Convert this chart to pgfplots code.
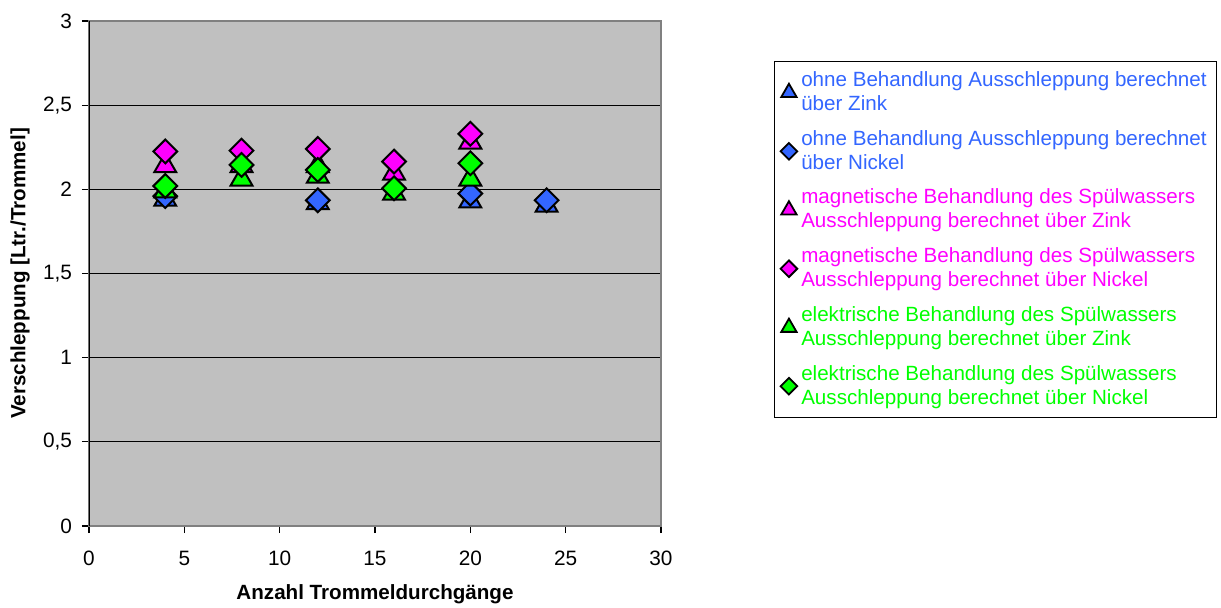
\documentclass[border=0pt]{standalone}
\usepackage{pgfplots}
\pgfplotsset{compat=1.18}
\usepackage{fontspec}
\setmainfont{Liberation Sans}
\definecolor{cblue}{HTML}{3366FF}
\definecolor{cmag}{HTML}{FF00FF}
\definecolor{cgreen}{HTML}{00FF00}
\definecolor{plotbg}{HTML}{C0C0C0}
\pgfplotsset{
  every y tick label/.append style={font=\fontsize{10.4}{12}\selectfont, xshift=-1.5pt},
  every x tick label/.append style={font=\fontsize{10.4}{12}\selectfont, yshift=-5.5pt},
}
\begin{document}
\begin{tikzpicture}
\path[use as bounding box] (-44.5pt,-40.5pt) rectangle (566pt,263pt);
\begin{axis}[
  scale only axis,
  width=286pt, height=252.5pt,
  xmin=0, xmax=30, ymin=0, ymax=3,
  xtick={0,5,...,30}, ytick={0,0.5,...,3},
  axis background/.style={fill=plotbg},
  axis line style={draw=gray!100!black, line width=1pt},
  ymajorgrids, grid style={black, line width=0.6pt},
  tick align=outside, tick pos=left,
  major tick length=3.5pt,
  tick style={black, line width=0.6pt},
  xlabel={\bfseries Anzahl Trommeldurchgänge},
  ylabel={\bfseries Verschleppung [Ltr./Trommel]},
  label style={font=\fontsize{10.3}{12}\selectfont},
  xlabel style={at={(rel axis cs:0.5,0)}, anchor=center, yshift=-34pt},
  ylabel style={at={(rel axis cs:0,0.5)}, anchor=center, yshift=34.5pt},
  legend style={at={(1.1976,0.9208)}, anchor=north west, draw=black, line width=0.6pt,
    font=\fontsize{10.3}{12}\selectfont, cells={align=left, anchor=west},
    row sep=4.4pt, inner xsep=3pt, inner ysep=3pt, fill=white},
  legend cell align=left,
  legend image code/.code={\draw[#1, every mark/.append style={scale=0.7}, line width=0.9pt] plot coordinates {(0.1cm,0cm)};},
  every axis plot/.append style={only marks, line width=1pt, draw=black},
  /pgf/number format/assume math mode=true,
  /pgf/number format/use comma,
]
\addplot[mark=triangle*, mark size=6.3pt, mark options={fill=cblue, draw=black}] coordinates {(4,1.94) (12,1.92) (20,1.93) (24,1.905)};
\addlegendentry[text=cblue]{ohne Behandlung Ausschleppung berechnet\\über Zink}
\addplot[mark=square*, mark size=4.2pt, mark options={fill=cblue, draw=black, rotate=45}] coordinates {(4,1.96) (12,1.935) (20,1.975) (24,1.935)};
\addlegendentry[text=cblue]{ohne Behandlung Ausschleppung berechnet\\über Nickel}
\addplot[mark=triangle*, mark size=6.3pt, mark options={fill=cmag, draw=black}] coordinates {(4,2.14) (8,2.14) (12,2.14) (16,2.095) (20,2.28)};
\addlegendentry[text=cmag]{magnetische Behandlung des Spülwassers\\Ausschleppung berechnet über Zink}
\addplot[mark=square*, mark size=4.2pt, mark options={fill=cmag, draw=black, rotate=45}] coordinates {(4,2.225) (8,2.23) (12,2.24) (16,2.165) (20,2.33)};
\addlegendentry[text=cmag]{magnetische Behandlung des Spülwassers\\Ausschleppung berechnet über Nickel}
\addplot[mark=triangle*, mark size=6.3pt, mark options={fill=cgreen, draw=black}] coordinates {(4,1.99) (8,2.06) (12,2.077) (16,1.976) (20,2.06)};
\addlegendentry[text=cgreen]{elektrische Behandlung des Spülwassers\\Ausschleppung berechnet über Zink}
\addplot[mark=square*, mark size=4.2pt, mark options={fill=cgreen, draw=black, rotate=45}] coordinates {(4,2.02) (8,2.145) (12,2.115) (16,2.006) (20,2.155)};
\addlegendentry[text=cgreen]{elektrische Behandlung des Spülwassers\\Ausschleppung berechnet über Nickel}
\draw[black, line width=1pt] (rel axis cs:0,0) -- (rel axis cs:0,1);
\end{axis}
\end{tikzpicture}
\end{document}
